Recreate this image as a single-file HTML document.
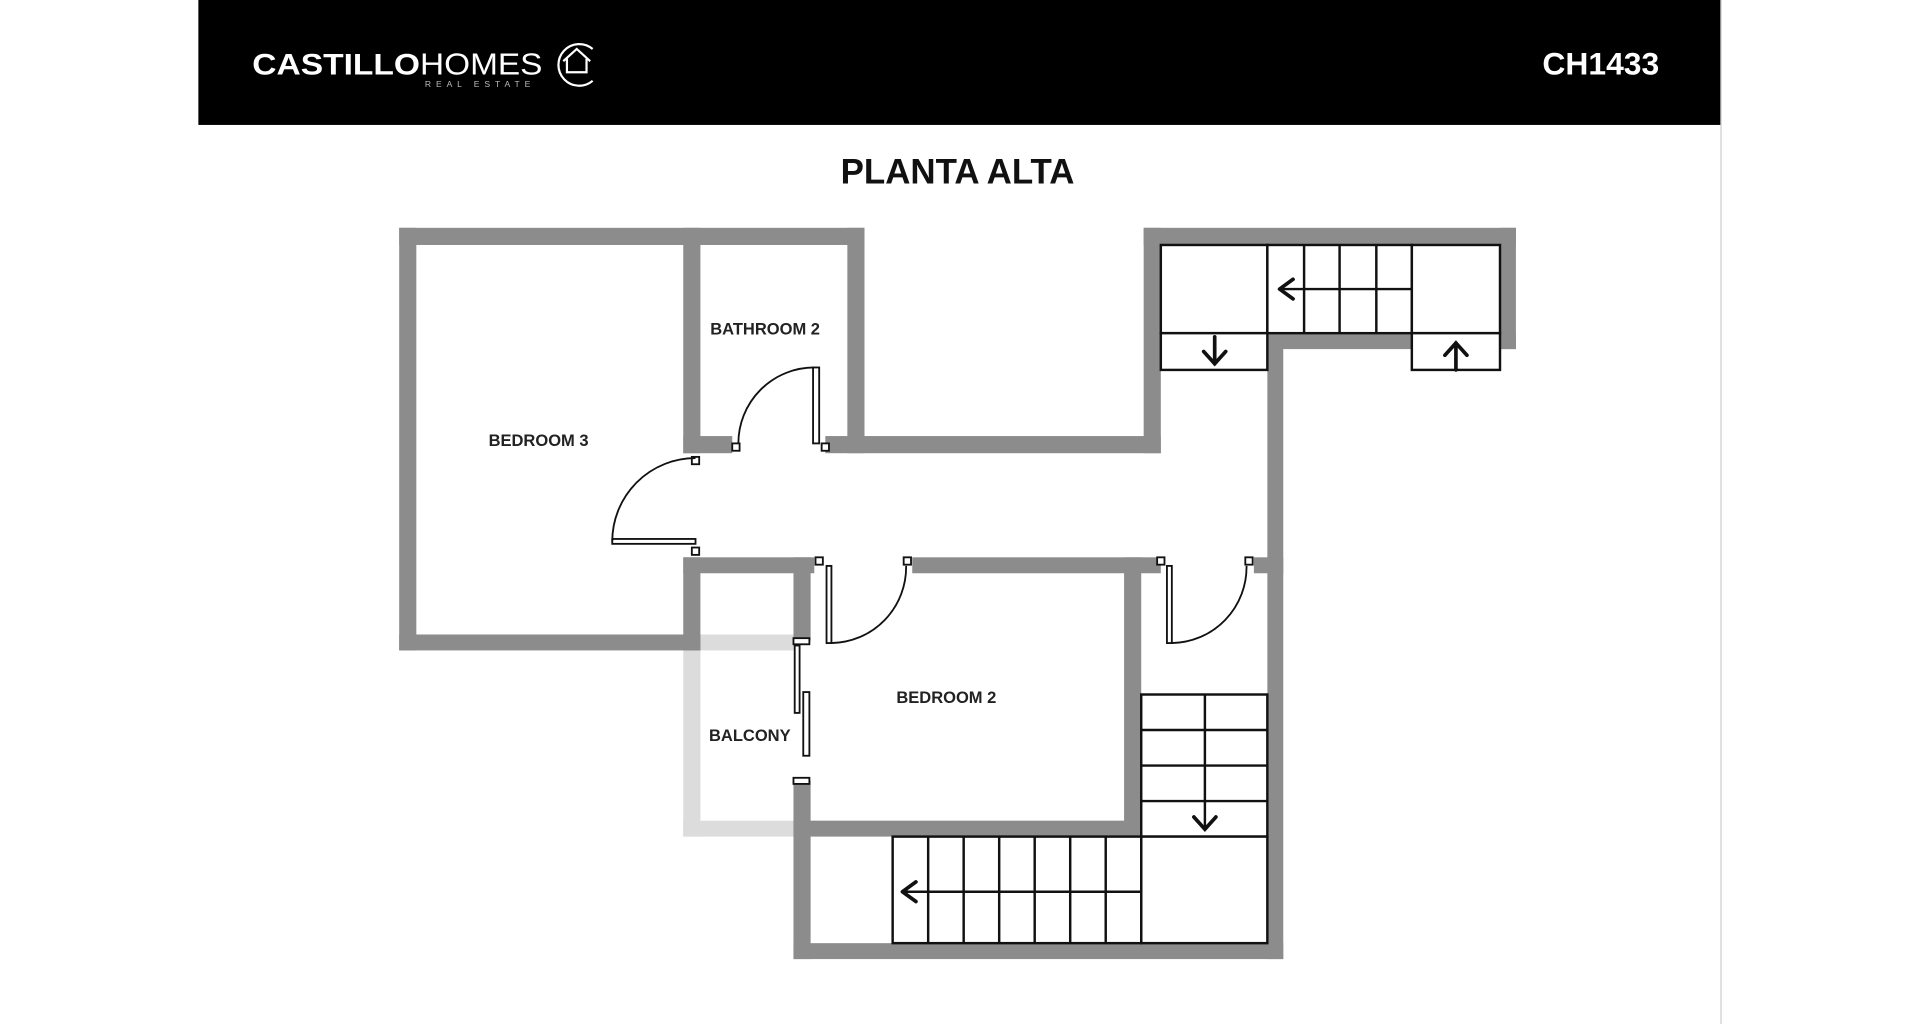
<!DOCTYPE html>
<html><head><meta charset="utf-8"><style>
html,body{margin:0;padding:0;background:#fff;}
svg{display:block;}
text{font-family:"Liberation Sans",Arial,sans-serif;}
</style></head><body>
<svg width="1920" height="1024" viewBox="0 0 1568 836" preserveAspectRatio="none" xmlns="http://www.w3.org/2000/svg">
<rect width="1568" height="836" fill="#fff"/>
<rect x="162" y="0" width="1243" height="102" fill="#000"/>
<line x1="1405.5" y1="0" x2="1405.5" y2="836" stroke="#ccc" stroke-width="1"/>
<text x="206" y="61" fill="#fff" font-size="24" font-weight="bold" textLength="137" lengthAdjust="spacingAndGlyphs">CASTILLO</text>
<text x="343" y="61" fill="#fff" font-size="25" textLength="100" lengthAdjust="spacingAndGlyphs">HOMES</text>
<text x="347" y="71" fill="#bbb" font-size="7" letter-spacing="4">REAL ESTATE</text>
<path d="M484 40 A17 17 0 1 0 484 66" fill="none" stroke="#fff" stroke-width="1.8"/>
<path d="M460 50 L471 40 L482 50 M463 48 L463 59 L479 59 L479 48" fill="none" stroke="#fff" stroke-width="1.8"/>
<text x="1355" y="61" fill="#fff" font-size="26" font-weight="bold" text-anchor="end">CH1433</text>
<text x="782" y="150" fill="#111" font-size="28.5" font-weight="bold" text-anchor="middle">PLANTA ALTA</text>

<g fill="#dcdcdc">
<rect x="558" y="518" width="14" height="165"/>
<rect x="558" y="670" width="96" height="13"/>
<rect x="572" y="518" width="80" height="13"/>
</g>
<g fill="#8c8c8c">
<rect x="326" y="186" width="380" height="14"/>
<rect x="326" y="186" width="14" height="345"/>
<rect x="326" y="518" width="246" height="13"/>
<rect x="558" y="186" width="14" height="184"/>
<rect x="558" y="455" width="14" height="76"/>
<rect x="692" y="186" width="14" height="184"/>
<rect x="558" y="356" width="40" height="14"/>
<rect x="674" y="356" width="274" height="14"/>
<rect x="934" y="186" width="14" height="184"/>
<rect x="934" y="186" width="304" height="14"/>
<rect x="1225" y="186" width="13" height="99"/>
<rect x="1035" y="272" width="118" height="13"/>
<rect x="1153" y="272" width="85" height="13"/>
<rect x="1035" y="272" width="13" height="511"/>
<rect x="558" y="455" width="107" height="13"/>
<rect x="745" y="455" width="203" height="13"/>
<rect x="1024" y="455" width="24" height="13"/>
<rect x="918" y="455" width="14" height="228"/>
<rect x="648" y="670" width="284" height="13"/>
<rect x="648" y="455" width="14" height="68"/>
<rect x="648" y="637" width="14" height="146"/>
<rect x="648" y="770" width="400" height="13"/>
</g>

<g fill="#fff" stroke="#111" stroke-width="2">
<rect x="948" y="200" width="87" height="72"/>
<rect x="1035" y="200" width="118" height="72"/>
<rect x="1153" y="200" width="72" height="72"/>
<rect x="948" y="272" width="87" height="30"/>
<rect x="1153" y="272" width="72" height="30"/>
<rect x="932" y="567" width="103" height="116"/>
<rect x="932" y="683" width="103" height="87"/>
<rect x="729" y="683" width="203" height="87"/>
</g>
<g stroke="#111" stroke-width="2" fill="none">
<path d="M1065 200V272M1094 200V272M1124 200V272M1153 236H1045"/>
<path d="M758 683V770M787 683V770M816 683V770M845 683V770M874 683V770M903 683V770M932 728H737"/>
<path d="M932 596H1035M932 625H1035M932 654H1035M984 567V677"/>
</g>
<g stroke="#111" stroke-width="3" fill="none" stroke-linecap="round">
<path d="M1045 236l11 -8M1045 236l11 8"/>
<path d="M737 728l11 -8M737 728l11 8"/>
<path d="M975 667l9 10 9 -10"/>
<path d="M992 275V297M983 287l9 10 9 -10"/>
<path d="M1189 302V280M1180 290l9 -10 9 10"/>
</g>

<g fill="#fff" stroke="#111" stroke-width="1.5">
<rect x="664" y="300" width="5" height="62"/>
<rect x="598" y="362" width="6" height="6"/>
<rect x="671" y="362" width="6" height="6"/>
<rect x="500" y="440" width="68" height="4"/>
<rect x="565" y="373" width="6" height="6"/>
<rect x="565" y="447" width="6" height="6"/>
<rect x="675" y="462" width="4" height="63"/>
<rect x="666" y="455" width="6" height="6"/>
<rect x="738" y="455" width="6" height="6"/>
<rect x="953" y="462" width="4" height="63"/>
<rect x="945" y="455" width="6" height="6"/>
<rect x="1017" y="455" width="6" height="6"/>
<rect x="648" y="521" width="13" height="5"/>
<rect x="649" y="527" width="4" height="55"/>
<rect x="656" y="565" width="5" height="52"/>
<rect x="648" y="635" width="13" height="5"/>
</g>
<g fill="none" stroke="#111" stroke-width="1.5">
<path d="M603 362 A62 62 0 0 1 665 300"/>
<path d="M500 442 A68 68 0 0 1 568 374"/>
<path d="M679 525 A62 62 0 0 0 740 462"/>
<path d="M957 525 A62 62 0 0 0 1018 462"/>
</g>

<g fill="#222" font-size="13.5" font-weight="bold">
<text x="580" y="273">BATHROOM 2</text>
<text x="399" y="364">BEDROOM 3</text>
<text x="732" y="574">BEDROOM 2</text>
<text x="579" y="605">BALCONY</text>
</g>
</svg>
</body></html>
